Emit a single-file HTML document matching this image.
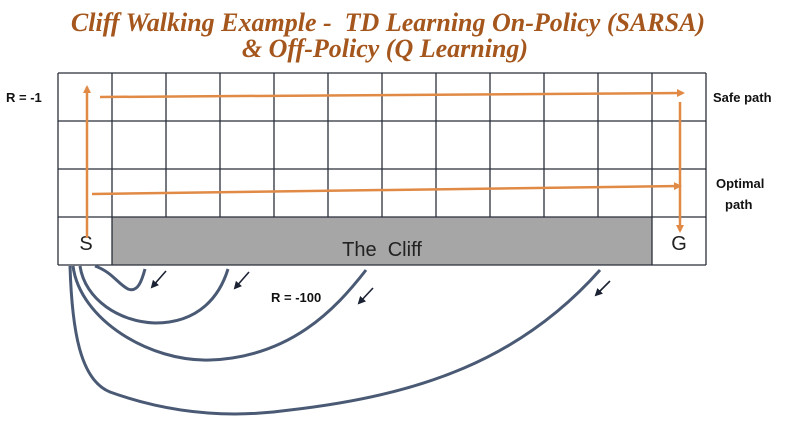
<!DOCTYPE html>
<html><head><meta charset="utf-8"><style>
body{margin:0;background:#fff;width:786px;height:423px;overflow:hidden;font-family:"Liberation Sans",sans-serif}
</style></head><body>
<svg width="786" height="423" viewBox="0 0 786 423">
<defs>
<marker id="oa" markerWidth="8" markerHeight="8" refX="6" refY="4" orient="auto" markerUnits="userSpaceOnUse"><path d="M0,0 L8,4 L0,8 Z" fill="#E08A45"/></marker>
<marker id="da" markerWidth="8" markerHeight="8" refX="6" refY="4" orient="auto" markerUnits="userSpaceOnUse"><path d="M0,0 L8,4 L0,8 Z" fill="#1a2233"/></marker>
</defs>
<g font-family="Liberation Serif,serif" font-style="italic" font-weight="bold" fill="#A4561C" font-size="26" text-anchor="middle">
<text x="388" y="31" style="white-space:pre" xml:space="preserve">Cliff Walking Example -  TD Learning On-Policy (SARSA)</text>
<text x="385" y="57">&amp; Off-Policy (Q Learning)</text>
</g>
<rect x="112" y="217" width="540" height="48" fill="#A6A6A6"/>
<g id="grid" stroke="#2b2f3a" stroke-width="1.3" fill="none"></g>
<text x="382" y="256" font-size="20" text-anchor="middle" fill="#222" xml:space="preserve">The  Cliff</text>
<text x="86" y="250" font-size="20" text-anchor="middle" fill="#222">S</text>
<text x="679" y="250" font-size="20" text-anchor="middle" fill="#222">G</text>
<g font-size="13" font-weight="bold" fill="#111">
<text x="6" y="102">R = -1</text>
<text x="713" y="102">Safe path</text>
<text x="716" y="188">Optimal</text>
<text x="725" y="209">path</text>
<text x="271" y="302">R = -100</text>
</g>
<g stroke="#E08A45" stroke-width="2.5" fill="none">
<line x1="87" y1="238" x2="87" y2="87" marker-end="url(#oa)"/>
<line x1="100" y1="97" x2="683" y2="93" marker-end="url(#oa)"/>
<line x1="680" y1="102" x2="680" y2="231" marker-end="url(#oa)"/>
<line x1="92" y1="194" x2="680" y2="186" marker-end="url(#oa)"/>
</g>
<g stroke="#4A5A75" stroke-width="3" fill="none">
<path d="M95,266 C112,272 118,284 128,289 C138,293 142,280 145,269"/>
<path d="M80,266 C85,300 120,322 155,323 C200,323 220,295 228,269"/>
<path d="M73,266 C80,320 150,362 210,360 C290,357 335,310 366,270"/>
<path d="M70,266 C72,330 80,380 110,392 C160,410 220,420 290,410 C420,395 520,360 600,270"/>
</g>
<g stroke="#1a2233" stroke-width="1.6">
<line x1="166" y1="271" x2="152" y2="287" marker-end="url(#da)"/>
<line x1="249" y1="272" x2="235" y2="288" marker-end="url(#da)"/>
<line x1="373" y1="288" x2="359" y2="303" marker-end="url(#da)"/>
<line x1="610" y1="281" x2="596" y2="295" marker-end="url(#da)"/>
</g>
</svg>
<script>
const cols=12, rows=4, x0=58, y0=73, cw=54, rh=48;
const g=document.getElementById('grid');
for(let c=0;c<=cols;c++){
 const l=document.createElementNS('http://www.w3.org/2000/svg','line');
 
 
 const x=x0+c*cw;
 l.setAttribute('x1',x);l.setAttribute('x2',x);l.setAttribute('y1',y0);
 l.setAttribute('y2',(c>1&&c<cols-1)?y0+3*rh:y0+rows*rh);
 g.appendChild(l);
}
for(let r=0;r<=rows;r++){
 const l=document.createElementNS('http://www.w3.org/2000/svg','line');
 
 
 const y=y0+r*rh;
 l.setAttribute('x1',x0);l.setAttribute('x2',x0+cols*cw);l.setAttribute('y1',y);l.setAttribute('y2',y);
 g.appendChild(l);
}
</script>
</body></html>
